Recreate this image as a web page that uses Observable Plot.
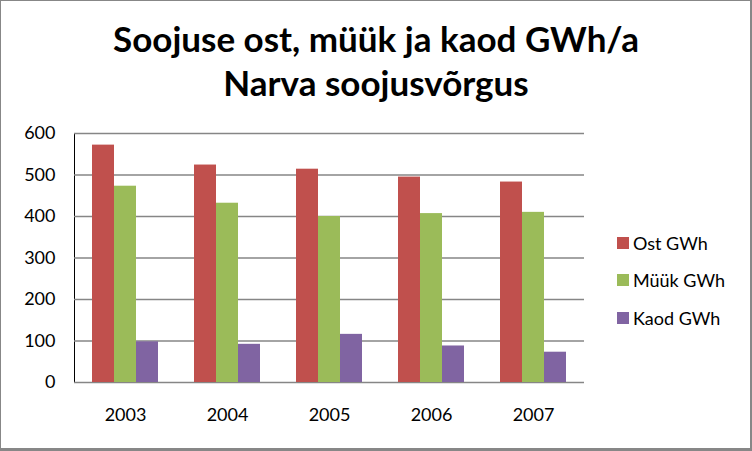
<!DOCTYPE html>
<html><head><meta charset="utf-8">
<script src="https://cdn.jsdelivr.net/npm/d3@7"></script>
<script src="https://cdn.jsdelivr.net/npm/@observablehq/plot@0.6"></script>
<style>
body{margin:0;background:#fff}
#wrap{position:relative;width:752px;height:451px;overflow:hidden;font-family:Lato,sans-serif;background:#fff}
#title{position:absolute;left:0;top:16px;width:752px;text-align:center;font-weight:bold;font-size:35px;line-height:44px;color:#000}
#chart{position:absolute;left:0;top:110px}
#legend{position:absolute;left:617px;top:224px}
#legend .row{height:37.5px;display:flex;align-items:center;font-size:18px;color:#000;white-space:nowrap}
#legend .sw{width:12px;height:12px;margin-right:4px;display:inline-block}
.border{position:absolute;left:0;top:0;right:0;bottom:0;border-style:solid;border-color:#878787;border-width:1px 2px 3px 1px;pointer-events:none}
</style></head>
<body>
<div id="wrap">
  <div id="title">Soojuse ost, müük ja kaod GWh/a<br>Narva soojusvõrgus</div>
  <div id="chart"></div>
  <div id="legend"></div>
  <div class="border"></div>
</div>
<script>
const years = ["2003","2004","2005","2006","2007"];
const series = ["Ost GWh","Müük GWh","Kaod GWh"];
const ost  = [572, 524, 514, 495, 483];
const myyk = [473, 432, 400, 407, 410];
const kaod = [98, 92, 116, 88, 73];
const colors = ["#C0504D","#9BBB59","#8064A2"];
const yTicks = [0,100,200,300,400,500,600];

const values = [ost, myyk, kaod];
const data = years.flatMap((yr,i)=> series.map((s,j)=>({year:yr, series:s, value:values[j][i]})));

const chart = Plot.plot({
  width:752, height:341, marginTop:23, marginBottom:69, marginLeft:74, marginRight:168,
  style:{fontFamily:"Lato, sans-serif", fontSize:"18px", color:"#000", background:"transparent", overflow:"visible"},
  fx:{domain:years, padding:0, label:null, axis:"bottom", tickSize:0, tickPadding:26},
  x:{domain:series, axis:null, paddingInner:0, paddingOuter:0.75},
  y:{domain:[0,600], ticks:yTicks, tickSize:0, tickPadding:19, label:null, line:true},
  color:{domain:series, range:colors},
  marks:[
    Plot.ruleY(yTicks,{stroke:"#868686", strokeWidth:1.3}),
    Plot.barY(data,{fx:"year", x:"series", y:"value", fill:"series", inset:0})
  ]
});
document.getElementById("chart").appendChild(chart);

const legend = document.getElementById("legend");
series.forEach((s,i)=>{
  const row = document.createElement("div"); row.className="row";
  const sw = document.createElement("span"); sw.className="sw"; sw.style.background=colors[i];
  row.appendChild(sw); row.appendChild(document.createTextNode(s));
  legend.appendChild(row);
});
</script>
</body></html>
